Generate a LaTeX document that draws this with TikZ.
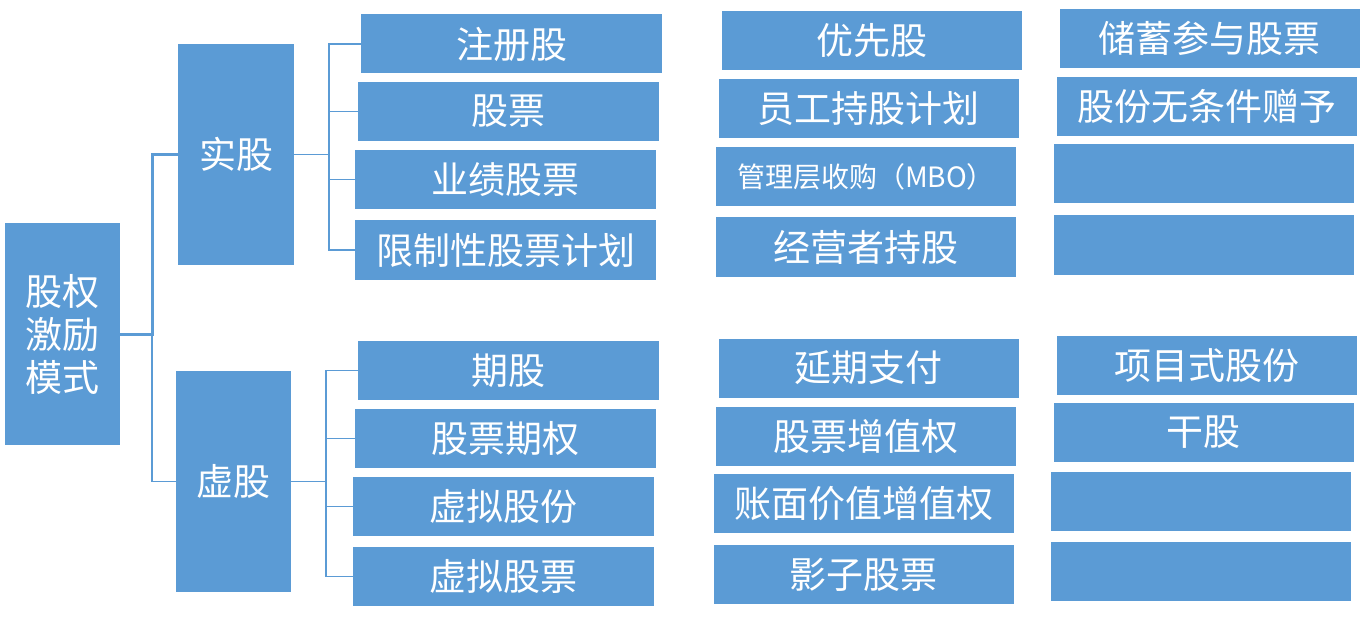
\documentclass[tikz,border=0pt]{standalone}
\usepackage{fontspec}
\setmainfont{Noto Sans CJK SC}
\definecolor{ofblue}{HTML}{5B9BD5}
\definecolor{lnblue}{HTML}{5B9BD5}
\tikzset{
  box/.style={fill=ofblue, draw=none, text=white, inner sep=0pt, anchor=center,
    minimum width=300pt, minimum height=59pt, font=\fontsize{37}{43}\selectfont},
  tallbox/.style={box, minimum width=116pt, minimum height=221pt},
  small/.style={font=\fontsize{28}{34}\selectfont},
  thickline/.style={draw=lnblue, line width=3pt},
  thinline/.style={draw=lnblue, line width=1.3pt},
}
\begin{document}
\begin{tikzpicture}[x=1pt,y=-1pt]
\useasboundingbox (0,0) rectangle (1364,620);
% level 0 and 1
\node[tallbox, minimum width=115pt, minimum height=222pt, align=center] (root) at (62.5,334) {股权\\激励\\模式};
\node[tallbox] (sg) at (236,154.5) {实股};
\node[tallbox, minimum width=115pt] (xg) at (233.5,481.5) {虚股};
% children of 实股
\node[box, minimum width=301pt] (a1) at (511.5,44) {注册股};
\node[box, minimum width=301pt] (a2) at (508.5,111.5) {股票};
\node[box, minimum width=301pt] (a3) at (505.5,179.5) {业绩股票};
\node[box, minimum width=301pt] (a4) at (505.5,250) {限制性股票计划};
% children of 虚股
\node[box, minimum width=301pt] (b1) at (508.5,370.5) {期股};
\node[box, minimum width=301pt] (b2) at (505.5,438.5) {股票期权};
\node[box, minimum width=301pt] (b3) at (503.5,506.5) {虚拟股份};
\node[box, minimum width=301pt] (b4) at (503.5,576.5) {虚拟股票};
% third column
\node[box] (c1) at (871.5,41) {优先股};
\node[box] (c2) at (868.5,109) {员工持股计划};
\node[box, small] (c3) at (866,177) {管理层收购（MBO）};
\node[box] (c4) at (866,247) {经营者持股};
\node[box] (c5) at (868.5,368) {延期支付};
\node[box] (c6) at (866,436) {股票增值权};
\node[box] (c7) at (863.5,503.5) {账面价值增值权};
\node[box] (c8) at (863.5,574.5) {影子股票};
% fourth column
\node[box] (d1) at (1209.5,38.5) {储蓄参与股票};
\node[box] (d2) at (1207,106.5) {股份无条件赠予};
\node[box] (d3) at (1203.5,174) {};
\node[box] (d4) at (1203.5,245) {};
\node[box] (d5) at (1207,365.5) {项目式股份};
\node[box] (d6) at (1203.5,432.5) {干股};
\node[box] (d7) at (1201,501) {};
\node[box] (d8) at (1201,571) {};
% connectors
\coordinate (j0) at (152,334);
\coordinate (j1) at (329,154.5);
\coordinate (j2) at (326,481.5);
\draw[thickline] (root.east) -- (j0) |- (sg.west);
\draw[thinline] (j0) |- (xg.west);
\draw[thinline] (sg.east) -- (j1);
\draw[thinline] (j1) |- (a1.west);
\draw[thinline] (j1) |- (a2.west);
\draw[thinline] (j1) |- (a3.west);
\draw[thinline] (j1) |- (a4.west);
\draw[thinline] (xg.east) -- (j2);
\draw[thinline] (j2) |- (b1.west);
\draw[thinline] (j2) |- (b2.west);
\draw[thinline] (j2) |- (b3.west);
\draw[thinline] (j2) |- (b4.west);
\end{tikzpicture}
\end{document}
